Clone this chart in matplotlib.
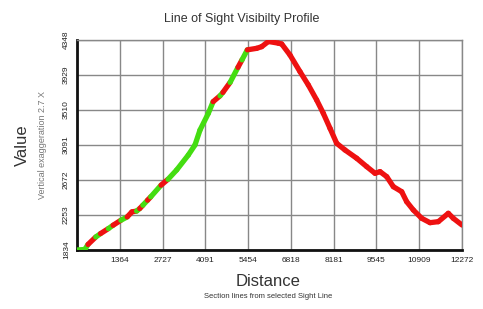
import numpy as np
import matplotlib
matplotlib.use("Agg")
import matplotlib.pyplot as plt

plt.rcParams['font.family'] = ['Liberation Sans', 'DejaVu Sans']

# profile: distance, elevation, visible (1) / hidden (0) from that point on
distance = [0, 250, 350, 600, 750, 1000, 1150, 1400, 1600, 1750, 1900, 2000, 2100, 2250,
            2350, 2680, 2900, 3177, 3549, 3761, 3921, 4187, 4340, 4560, 4650, 4880,
            5130, 5260, 5430, 5728, 5887, 6100, 6418, 6525, 6790, 7108, 7374, 7639,
            7852, 8065, 8278, 8543, 8915, 9234, 9500, 9659, 9872, 10084, 10350, 10509,
            10720, 10988, 11253, 11517, 11836, 11996, 12272]
value = [1834, 1840, 1900, 1990, 2030, 2090, 2130, 2190, 2230, 2290, 2300, 2330, 2370, 2430,
         2470, 2610, 2680, 2792, 2971, 3091, 3270, 3470, 3610, 3680, 3720, 3840,
         4020, 4110, 4230, 4248, 4268, 4330, 4310, 4300, 4168, 3969, 3809, 3630,
         3470, 3291, 3111, 3031, 2932, 2832, 2752, 2772, 2712, 2592, 2532, 2412,
         2313, 2213, 2161, 2173, 2273, 2213, 2133]
visible = [1, 1, 0, 1, 0, 1, 0, 1, 0, 0, 1, 0, 1, 0,
           1, 0, 1, 1, 1, 1, 1, 1, 0, 1, 0, 1,
           0, 1, 0, 0, 0, 0, 0, 0, 0, 0, 0, 0,
           0, 0, 0, 0, 0, 0, 0, 0, 0, 0, 0, 0,
           0, 0, 0, 0, 0, 0, 0]

x_ticks = [0, 1364, 2727, 4091, 5454, 6818, 8181, 9545, 10909, 12272]
y_ticks = [1834, 2253, 2672, 3091, 3510, 3929, 4348]

fig = plt.figure(figsize=(4.83, 3.09), dpi=100)
ax = fig.add_axes([0.1594, 0.191, 0.7971, 0.6796])

for i in range(len(distance) - 1):
    c = '#44dd11' if visible[i] else '#ee1111'
    ax.plot(distance[i:i + 2], value[i:i + 2], color=c, lw=3.8,
            solid_capstyle='round', zorder=3)

ax.set_xlim(0, 12272)
ax.set_ylim(1834, 4348)
ax.set_xticks(x_ticks)
ax.set_xticklabels([''] + [str(t) for t in x_ticks[1:]], fontsize=6)
ax.set_yticks(y_ticks)
ax.set_yticklabels([str(t) for t in y_ticks], fontsize=6, rotation=90, va='center')
ax.tick_params(length=0, pad=5, colors='#222222')
ax.grid(True, color='#888888', lw=1)

for s in ['top', 'right']:
    ax.spines[s].set_color('#888888')
    ax.spines[s].set_linewidth(1)
for s in ['left', 'bottom']:
    ax.spines[s].set_color('#111111')
    ax.spines[s].set_linewidth(2)

fig.text(0.5, 0.94, 'Line of Sight Visibilty Profile', ha='center', va='center',
         fontsize=9, color='#333333')
fig.text(0.556, 0.09, 'Distance', ha='center', va='center', fontsize=12, color='#333333')
fig.text(0.556, 0.04, 'Section lines from selected Sight Line', ha='center', va='center',
         fontsize=5.5, color='#333333')
fig.text(0.046, 0.53, 'Value', ha='center', va='center', fontsize=12, rotation=90,
         color='#333333')
fig.text(0.087, 0.53, 'Vertical exaggeration 2.7 X', ha='center', va='center',
         fontsize=6.5, rotation=90, color='#777777')

fig.savefig('out.png', dpi=100)
